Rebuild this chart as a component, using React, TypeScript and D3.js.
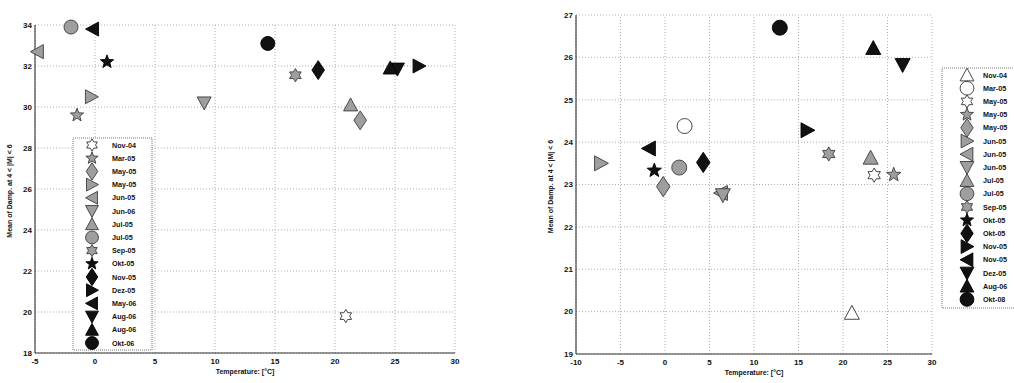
import React from 'react'
import * as d3 from 'd3'

// ---- left panel data ----
const leftMonths = ['Nov-04', 'Mar-05', 'May-05', 'May-05', 'Jun-05', 'Jun-06', 'Jul-05', 'Jul-05', 'Sep-05', 'Okt-05', 'Nov-05', 'Dez-05', 'May-06', 'Aug-06', 'Aug-06', 'Okt-06']
const leftTemp = [20.9, -1.5, 22.1, -0.3, -4.8, 9.1, 21.3, -2.0, 16.7, 1.0, 18.6, 27.0, -0.2, 25.2, 24.6, 14.4]
const leftDamp = [19.8, 29.6, 29.35, 30.5, 32.7, 30.2, 30.1, 33.9, 31.55, 32.2, 31.8, 32.0, 33.8, 31.85, 31.9, 33.1]
const leftXTicks = [-5, 0, 5, 10, 15, 20, 25, 30]
const leftYTicks = [18, 20, 22, 24, 26, 28, 30, 32, 34]

// ---- right panel data ----
const rightMonths = ['Nov-04', 'Mar-05', 'May-05', 'May-05', 'May-05', 'Jun-05', 'Jun-05', 'Jun-05', 'Jul-05', 'Jul-05', 'Sep-05', 'Okt-05', 'Okt-05', 'Nov-05', 'Nov-05', 'Dez-05', 'Aug-06', 'Okt-08']
const rightTemp = [21.0, 2.2, 23.5, 25.7, -0.2, -7.2, 6.3, 6.5, 23.1, 1.6, 18.4, -1.2, 4.3, 16.0, -1.8, 26.7, 23.4, 12.9]
const rightDamp = [19.97, 24.38, 23.22, 23.23, 22.95, 23.5, 22.8, 22.75, 23.63, 23.4, 23.72, 23.33, 23.52, 24.28, 23.85, 25.82, 26.22, 26.7]
const rightXTicks = [-10, -5, 0, 5, 10, 15, 20, 25, 30]
const rightYTicks = [19, 20, 21, 22, 23, 24, 25, 26, 27]

// marker styles (shape, fill) per legend entry
type Shape = 'circle' | 'diamond' | 'pentagram' | 'hexagram' | 'up' | 'down' | 'left' | 'right'
type Fill = 'open' | 'gray' | 'black'
const leftMarkers: [Shape, Fill][] = [
  ['hexagram', 'open'], ['pentagram', 'gray'], ['diamond', 'gray'], ['right', 'gray'],
  ['left', 'gray'], ['down', 'gray'], ['up', 'gray'], ['circle', 'gray'], ['hexagram', 'gray'],
  ['pentagram', 'black'], ['diamond', 'black'], ['right', 'black'], ['left', 'black'],
  ['down', 'black'], ['up', 'black'], ['circle', 'black'],
]
const rightMarkers: [Shape, Fill][] = [
  ['up', 'open'], ['circle', 'open'], ['hexagram', 'open'], ['pentagram', 'gray'], ['diamond', 'gray'],
  ['right', 'gray'], ['left', 'gray'], ['down', 'gray'], ['up', 'gray'], ['circle', 'gray'], ['hexagram', 'gray'],
  ['pentagram', 'black'], ['diamond', 'black'], ['right', 'black'], ['left', 'black'],
  ['down', 'black'], ['up', 'black'], ['circle', 'black'],
]

const FONT = "'Liberation Sans', Arial, sans-serif"
const Y_LABEL = 'Mean of Damp. at 4 < |M| < 6'
const X_LABEL = 'Temperature: [°C]'

function markerPath(shape: Shape, r: number): string {
  const pts = (arr: [number, number][]) => 'M' + arr.map((p) => p.map((v) => v.toFixed(2)).join(',')).join('L') + 'Z'
  const star = (n: number, outer: number, inner: number) => {
    const a: [number, number][] = []
    for (let i = 0; i < n * 2; i++) {
      const rr = i % 2 === 0 ? outer : inner
      const ang = -Math.PI / 2 + (i * Math.PI) / n
      a.push([rr * Math.cos(ang), rr * Math.sin(ang)])
    }
    return pts(a)
  }
  switch (shape) {
    case 'circle':
      return d3.symbol(d3.symbolCircle, Math.PI * r * r)() as string
    case 'diamond':
      return pts([[0, -r * 1.35], [r * 0.9, 0], [0, r * 1.35], [-r * 0.9, 0]])
    case 'pentagram':
      return star(5, r * 1.0, r * 0.42)
    case 'hexagram':
      return star(6, r * 0.95, r * 0.55)
    case 'up':
      return pts([[0, -r], [r, r * 0.85], [-r, r * 0.85]])
    case 'down':
      return pts([[0, r], [r, -r * 0.85], [-r, -r * 0.85]])
    case 'right':
      return pts([[r, 0], [-r * 0.85, r], [-r * 0.85, -r]])
    case 'left':
      return pts([[-r, 0], [r * 0.85, r], [r * 0.85, -r]])
  }
}

const fillOf = (f: Fill) => (f === 'open' ? '#fff' : f === 'gray' ? '#9e9e9e' : '#111')
const strokeOf = (f: Fill) => (f === 'open' ? '#333' : f === 'gray' ? '#3c3c3c' : '#000')

function Marker({ x, y, m, r }: { x: number; y: number; m: [Shape, Fill]; r: number }) {
  return (
    <path
      d={markerPath(m[0], r)}
      transform={`translate(${x},${y})`}
      fill={fillOf(m[1])}
      stroke={strokeOf(m[1])}
      strokeWidth={0.9}
    />
  )
}

interface PanelProps {
  xDomain: [number, number]
  xRange: [number, number]
  yDomain: [number, number]
  yRange: [number, number]
  xTicks: number[]
  yTicks: number[]
  temp: number[]
  damp: number[]
  months: string[]
  markers: [Shape, Fill][]
  r: number
  yLabelX: number
  legend: { x0: number; x1: number; y0: number; y1: number; rowY: number; step: number; mx: number; tx: number }
}

function Panel(p: PanelProps) {
  const x = d3.scaleLinear().domain(p.xDomain).range(p.xRange)
  const y = d3.scaleLinear().domain(p.yDomain).range(p.yRange)
  const [L, R] = p.xRange
  const [B, T] = p.yRange
  const grid = { stroke: '#9a9a9a', strokeWidth: 0.8, strokeDasharray: '1 2' }
  const lg = p.legend
  return (
    <g>
      {p.xTicks.map((t) => (
        <line key={'gx' + t} x1={x(t)} x2={x(t)} y1={B} y2={T} {...grid} />
      ))}
      {p.yTicks.map((t) => (
        <line key={'gy' + t} x1={L} x2={R} y1={y(t)} y2={y(t)} {...grid} />
      ))}
      <line x1={L} x2={L} y1={T} y2={B} stroke="#222" strokeWidth={1} />
      <line x1={L} x2={R} y1={B} y2={B} stroke="#333" strokeWidth={1} />
      {p.xTicks.map((t) => (
        <text key={'tx' + t} x={x(t)} y={B + 11} textAnchor="middle" fontSize={8} fontWeight="bold" fill="#111" fontFamily={FONT}>
          {t}
        </text>
      ))}
      {p.yTicks.map((t) => (
        <text key={'ty' + t} x={L - 3} y={y(t)} dy="0.35em" textAnchor="end" fontSize={8} fontWeight="bold" fill="#111" fontFamily={FONT}>
          {t}
        </text>
      ))}
      <text x={(L + R) / 2} y={B + 21} textAnchor="middle" fontSize={7} fontWeight="bold" fill="#111" fontFamily={FONT}>
        {X_LABEL}
      </text>
      <text
        transform={`translate(${p.yLabelX},${(T + B) / 2 + 2}) rotate(-90)`}
        textAnchor="middle"
        fontSize={7}
        fontWeight="bold"
        fill="#111"
        fontFamily={FONT}
      >
        {Y_LABEL}
      </text>
      {p.temp.map((t, i) => (
        <Marker key={'m' + i} x={x(t)} y={y(p.damp[i])} m={p.markers[i]} r={p.r} />
      ))}
      <rect x={lg.x0} y={lg.y0} width={lg.x1 - lg.x0} height={lg.y1 - lg.y0} fill="#fff" stroke="#666" strokeWidth={0.9} strokeDasharray="1 1" />
      {p.months.map((m, i) => (
        <g key={'lg' + i}>
          <Marker x={lg.mx} y={lg.rowY + i * lg.step} m={p.markers[i]} r={p.r * 0.92} />
          <text x={lg.tx} y={lg.rowY + i * lg.step} dy="0.35em" fontSize={7.2} fontWeight="bold" fill="#111" fontFamily={FONT}>
            {m}
          </text>
        </g>
      ))}
    </g>
  )
}

export default function App() {
  return (
    <svg width={1014} height={383} style={{ position: 'fixed', left: 0, top: 0, background: '#fff' }}>
      <rect width={1014} height={383} fill="#fff" />
      <Panel
        xDomain={[-5, 30]}
        xRange={[35, 455]}
        yDomain={[18, 34]}
        yRange={[353, 25]}
        xTicks={leftXTicks}
        yTicks={leftYTicks}
        temp={leftTemp}
        damp={leftDamp}
        months={leftMonths}
        markers={leftMarkers}
        r={7}
        yLabelX={12}
        legend={{ x0: 73, x1: 152, y0: 138, y1: 350, rowY: 145, step: 13.2, mx: 92, tx: 112 }}
      />
      <Panel
        xDomain={[-10, 30]}
        xRange={[576, 932]}
        yDomain={[19, 27]}
        yRange={[354, 15]}
        xTicks={rightXTicks}
        yTicks={rightYTicks}
        temp={rightTemp}
        damp={rightDamp}
        months={rightMonths}
        markers={rightMarkers}
        r={7.5}
        yLabelX={553}
        legend={{ x0: 942, x1: 1024, y0: 68, y1: 308, rowY: 75, step: 13.2, mx: 967, tx: 983 }}
      />
    </svg>
  )
}
